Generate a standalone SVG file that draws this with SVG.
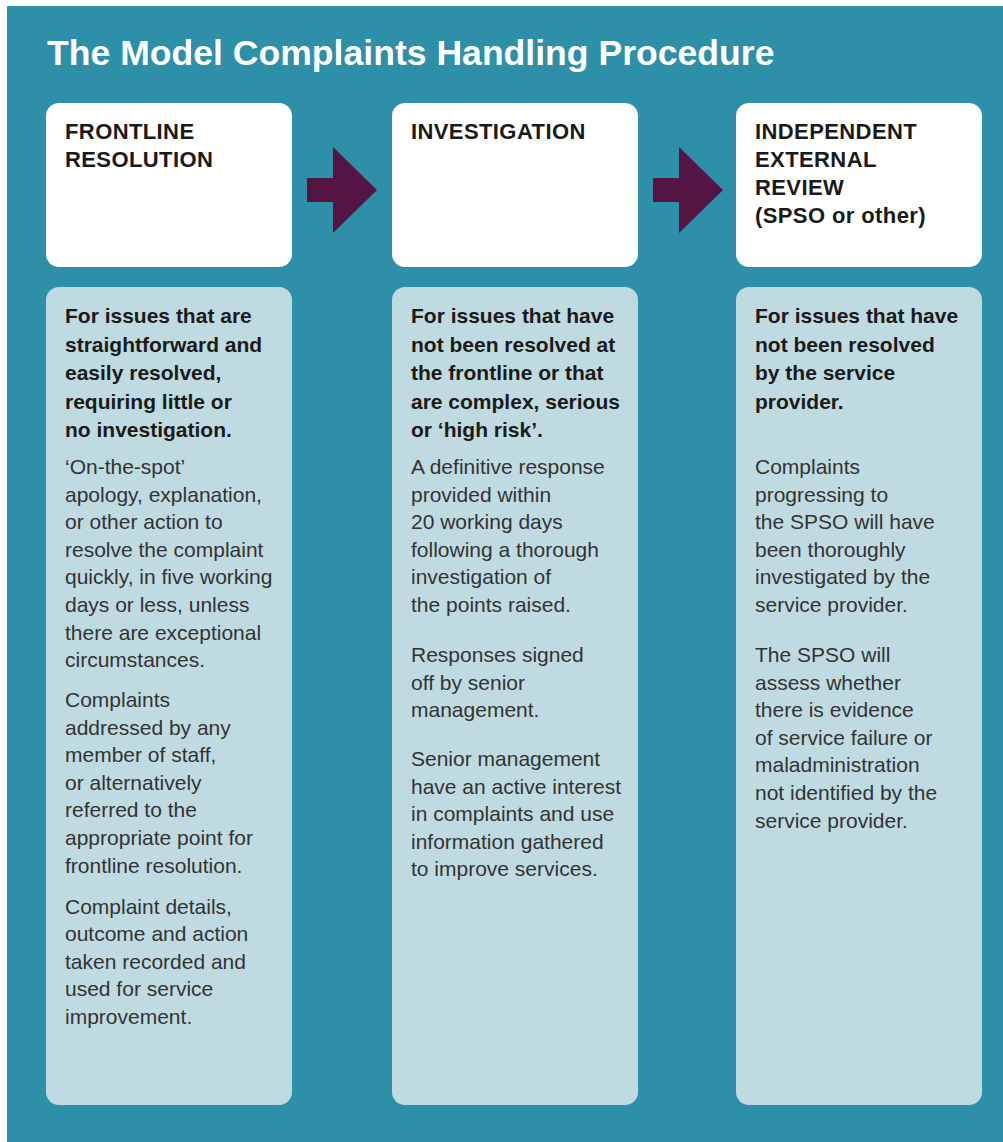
<svg xmlns="http://www.w3.org/2000/svg" width="1003" height="1142" viewBox="0 0 1003 1142">
<style>
.bg{fill:#2d8fa8}
.head{fill:#ffffff}
.body{fill:#bfdbe1}
.arrow{fill:#541545}
.title{font-family:"Liberation Sans",Arial,sans-serif;font-weight:bold;font-size:35.6px;fill:#ffffff}
.h{font-family:"Liberation Sans",Arial,sans-serif;font-weight:bold;font-size:22px;letter-spacing:0.4px;fill:#1a1a1a}
.b{font-family:"Liberation Sans",Arial,sans-serif;font-weight:bold;font-size:21px;fill:#1a1a1a}
.r{font-family:"Liberation Sans",Arial,sans-serif;font-size:21px;fill:#333333}
</style>
<rect x="0" y="0" width="1003" height="1142" fill="#ffffff"/>
<rect class="bg" x="7" y="6" width="996" height="1136"/>
<text class="title" x="47" y="65">The Model Complaints Handling Procedure</text>

<g id="connectors">
<polygon class="arrow" points="307,178 333,178 333,147 377,190 333,233 333,202 307,202"/>
<polygon class="arrow" points="653,178 679,178 679,147 723,190 679,233 679,202 653,202"/>
</g>

<g id="frontline-head">
<rect class="head" x="46" y="103" width="246" height="164" rx="13"/>
<text class="h" x="65" y="138.5">FRONTLINE</text>
<text class="h" x="65" y="166.5">RESOLUTION</text>
</g>
<g id="investigation-head">
<rect class="head" x="392" y="103" width="246" height="164" rx="13"/>
<text class="h" x="411" y="138.5">INVESTIGATION</text>
</g>
<g id="review-head">
<rect class="head" x="736" y="103" width="246" height="164" rx="13"/>
<text class="h" x="755" y="138.5">INDEPENDENT</text>
<text class="h" x="755" y="166.5">EXTERNAL</text>
<text class="h" x="755" y="194.5">REVIEW</text>
<text class="h" x="755" y="222.5">(SPSO or other)</text>
</g>

<g id="frontline-body">
<rect class="body" x="46" y="287" width="246" height="818" rx="13"/>
<text class="b" x="65" y="323">For issues that are</text>
<text class="b" x="65" y="351.5">straightforward and</text>
<text class="b" x="65" y="380">easily resolved,</text>
<text class="b" x="65" y="408.5">requiring little or</text>
<text class="b" x="65" y="437">no investigation.</text>
<text class="r" x="65" y="474">‘On-the-spot’</text>
<text class="r" x="65" y="501.6">apology, explanation,</text>
<text class="r" x="65" y="529.2">or other action to</text>
<text class="r" x="65" y="556.8">resolve the complaint</text>
<text class="r" x="65" y="584.4">quickly, in five working</text>
<text class="r" x="65" y="612">days or less, unless</text>
<text class="r" x="65" y="639.6">there are exceptional</text>
<text class="r" x="65" y="667.2">circumstances.</text>
<text class="r" x="65" y="707">Complaints</text>
<text class="r" x="65" y="734.6">addressed by any</text>
<text class="r" x="65" y="762.2">member of staff,</text>
<text class="r" x="65" y="789.8">or alternatively</text>
<text class="r" x="65" y="817.4">referred to the</text>
<text class="r" x="65" y="845">appropriate point for</text>
<text class="r" x="65" y="872.6">frontline resolution.</text>
<text class="r" x="65" y="914">Complaint details,</text>
<text class="r" x="65" y="941.4">outcome and action</text>
<text class="r" x="65" y="968.8">taken recorded and</text>
<text class="r" x="65" y="996.2">used for service</text>
<text class="r" x="65" y="1023.6">improvement.</text>
</g>

<g id="investigation-body">
<rect class="body" x="392" y="287" width="246" height="818" rx="13"/>
<text class="b" x="411" y="323">For issues that have</text>
<text class="b" x="411" y="351.5">not been resolved at</text>
<text class="b" x="411" y="380">the frontline or that</text>
<text class="b" x="411" y="408.5">are complex, serious</text>
<text class="b" x="411" y="437">or ‘high risk’.</text>
<text class="r" x="411" y="474">A definitive response</text>
<text class="r" x="411" y="501.6">provided within</text>
<text class="r" x="411" y="529.2">20 working days</text>
<text class="r" x="411" y="556.8">following a thorough</text>
<text class="r" x="411" y="584.4">investigation of</text>
<text class="r" x="411" y="612">the points raised.</text>
<text class="r" x="411" y="662">Responses signed</text>
<text class="r" x="411" y="689.6">off by senior</text>
<text class="r" x="411" y="717.2">management.</text>
<text class="r" x="411" y="766">Senior management</text>
<text class="r" x="411" y="793.6">have an active interest</text>
<text class="r" x="411" y="821.2">in complaints and use</text>
<text class="r" x="411" y="848.8">information gathered</text>
<text class="r" x="411" y="876.4">to improve services.</text>
</g>

<g id="review-body">
<rect class="body" x="736" y="287" width="246" height="818" rx="13"/>
<text class="b" x="755" y="323">For issues that have</text>
<text class="b" x="755" y="351.5">not been resolved</text>
<text class="b" x="755" y="380">by the service</text>
<text class="b" x="755" y="408.5">provider.</text>
<text class="r" x="755" y="474">Complaints</text>
<text class="r" x="755" y="501.6">progressing to</text>
<text class="r" x="755" y="529.2">the SPSO will have</text>
<text class="r" x="755" y="556.8">been thoroughly</text>
<text class="r" x="755" y="584.4">investigated by the</text>
<text class="r" x="755" y="612">service provider.</text>
<text class="r" x="755" y="662">The SPSO will</text>
<text class="r" x="755" y="689.6">assess whether</text>
<text class="r" x="755" y="717.2">there is evidence</text>
<text class="r" x="755" y="744.8">of service failure or</text>
<text class="r" x="755" y="772.4">maladministration</text>
<text class="r" x="755" y="800">not identified by the</text>
<text class="r" x="755" y="827.6">service provider.</text>
</g>
</svg>
